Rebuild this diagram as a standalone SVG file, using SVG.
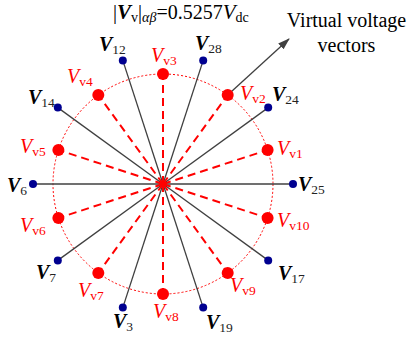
<svg xmlns="http://www.w3.org/2000/svg" width="409" height="339" viewBox="0 0 409 339" font-family="'Liberation Serif', serif">
<defs>
<style>
.bV{font-size:20px;font-style:italic;font-weight:bold;fill:#000;}
.rV{font-size:20px;font-style:italic;fill:#ff0000;}
.bs{font-size:13.5px;fill:#222;}
.rs{font-size:13.5px;fill:#ff0000;}
.blue{fill:#000090;}
.red{fill:#ff0000;}
.gl{stroke:#404040;stroke-width:1.3;fill:none;}
.rl{stroke:#ff0000;stroke-width:2;stroke-dasharray:8 5;fill:none;}
.t{font-size:20px;fill:#000;}
</style>
<marker id="ah" markerWidth="12" markerHeight="10" refX="11" refY="4" orient="auto" markerUnits="userSpaceOnUse">
<path d="M0,0 L12,4 L0,8 z" fill="#404040"/>
</marker>
</defs>
<rect width="409" height="339" fill="#fff"/>
<circle cx="163" cy="184" r="110" fill="none" stroke="#ff0000" stroke-width="1" stroke-dasharray="2 2"/>
<g id="connectors">
<line class="gl" x1="163" y1="184" x2="293" y2="184"/>
<line class="gl" x1="163" y1="184" x2="268.2" y2="107.6"/>
<line class="gl" x1="163" y1="184" x2="203.2" y2="60.4"/>
<line class="gl" x1="163" y1="184" x2="122.8" y2="60.4"/>
<line class="gl" x1="163" y1="184" x2="57.8" y2="107.6"/>
<line class="gl" x1="163" y1="184" x2="33" y2="184"/>
<line class="gl" x1="163" y1="184" x2="57.8" y2="260.4"/>
<line class="gl" x1="163" y1="184" x2="122.8" y2="307.6"/>
<line class="gl" x1="163" y1="184" x2="203.2" y2="307.6"/>
<line class="gl" x1="163" y1="184" x2="268.2" y2="260.4"/>
<line class="rl" x1="163" y1="184" x2="267.6" y2="150"/>
<line class="rl" x1="163" y1="184" x2="227.7" y2="95"/>
<line class="rl" x1="163" y1="184" x2="163" y2="74"/>
<line class="rl" x1="163" y1="184" x2="98.3" y2="95"/>
<line class="rl" x1="163" y1="184" x2="58.4" y2="150"/>
<line class="rl" x1="163" y1="184" x2="58.4" y2="218"/>
<line class="rl" x1="163" y1="184" x2="98.3" y2="273"/>
<line class="rl" x1="163" y1="184" x2="163" y2="294"/>
<line class="rl" x1="163" y1="184" x2="227.7" y2="273"/>
<line class="rl" x1="163" y1="184" x2="267.6" y2="218"/>
<line x1="227.7" y1="95" x2="289" y2="39" stroke="#404040" stroke-width="1.3" marker-end="url(#ah)"/>
</g>
<circle id="center" class="red" cx="163" cy="184" r="3.5"/>
<g id="V25"><circle class="blue" cx="293" cy="184" r="4"/><text x="298" y="191"><tspan class="bV">V</tspan><tspan class="bs" dy="3">25</tspan></text></g>
<g id="V24"><circle class="blue" cx="268.2" cy="107.6" r="4"/><text x="272" y="101"><tspan class="bV">V</tspan><tspan class="bs" dy="3">24</tspan></text></g>
<g id="V28"><circle class="blue" cx="203.2" cy="60.4" r="4"/><text x="195" y="50"><tspan class="bV">V</tspan><tspan class="bs" dy="3">28</tspan></text></g>
<g id="V12"><circle class="blue" cx="122.8" cy="60.4" r="4"/><text x="99" y="51"><tspan class="bV">V</tspan><tspan class="bs" dy="3">12</tspan></text></g>
<g id="V14"><circle class="blue" cx="57.8" cy="107.6" r="4"/><text x="28" y="104"><tspan class="bV">V</tspan><tspan class="bs" dy="3">14</tspan></text></g>
<g id="V6"><circle class="blue" cx="33" cy="184" r="4"/><text x="7" y="192"><tspan class="bV">V</tspan><tspan class="bs" dy="3">6</tspan></text></g>
<g id="V7"><circle class="blue" cx="57.8" cy="260.4" r="4"/><text x="36" y="279"><tspan class="bV">V</tspan><tspan class="bs" dy="3">7</tspan></text></g>
<g id="V3"><circle class="blue" cx="122.8" cy="307.6" r="4"/><text x="113" y="328"><tspan class="bV">V</tspan><tspan class="bs" dy="3">3</tspan></text></g>
<g id="V19"><circle class="blue" cx="203.2" cy="307.6" r="4"/><text x="206" y="329"><tspan class="bV">V</tspan><tspan class="bs" dy="3">19</tspan></text></g>
<g id="V17"><circle class="blue" cx="268.2" cy="260.4" r="4"/><text x="278" y="280"><tspan class="bV">V</tspan><tspan class="bs" dy="3">17</tspan></text></g>
<g id="Vv1"><circle class="red" cx="267.6" cy="150" r="6"/><text x="277" y="155"><tspan class="rV">V</tspan><tspan class="rs" dy="3">v1</tspan></text></g>
<g id="Vv2"><circle class="red" cx="227.7" cy="95" r="6"/><text x="240" y="100"><tspan class="rV">V</tspan><tspan class="rs" dy="3">v2</tspan></text></g>
<g id="Vv3"><circle class="red" cx="163" cy="74" r="6"/><text x="151" y="62"><tspan class="rV">V</tspan><tspan class="rs" dy="3">v3</tspan></text></g>
<g id="Vv4"><circle class="red" cx="98.3" cy="95" r="6"/><text x="67" y="83"><tspan class="rV">V</tspan><tspan class="rs" dy="3">v4</tspan></text></g>
<g id="Vv5"><circle class="red" cx="58.4" cy="150" r="6"/><text x="20" y="153"><tspan class="rV">V</tspan><tspan class="rs" dy="3">v5</tspan></text></g>
<g id="Vv6"><circle class="red" cx="58.4" cy="218" r="6"/><text x="20" y="232"><tspan class="rV">V</tspan><tspan class="rs" dy="3">v6</tspan></text></g>
<g id="Vv7"><circle class="red" cx="98.3" cy="273" r="6"/><text x="78" y="297"><tspan class="rV">V</tspan><tspan class="rs" dy="3">v7</tspan></text></g>
<g id="Vv8"><circle class="red" cx="163" cy="294" r="6"/><text x="153" y="318"><tspan class="rV">V</tspan><tspan class="rs" dy="3">v8</tspan></text></g>
<g id="Vv9"><circle class="red" cx="227.7" cy="273" r="6"/><text x="230" y="292"><tspan class="rV">V</tspan><tspan class="rs" dy="3">v9</tspan></text></g>
<g id="Vv10"><circle class="red" cx="267.6" cy="218" r="6"/><text x="277" y="227"><tspan class="rV">V</tspan><tspan class="rs" dy="3">v10</tspan></text></g>
<g id="title"><text class="t" x="113" y="19">|<tspan style="font-style:italic;font-weight:bold;font-size:21px">V</tspan><tspan style="font-size:14px" dy="3">v</tspan><tspan dy="-3">|</tspan><tspan style="font-size:14px;font-style:italic" dy="3">αβ</tspan><tspan dy="-3">=0.5257</tspan><tspan style="font-style:italic;font-size:21px">V</tspan><tspan style="font-size:14px" dy="3">dc</tspan></text></g>
<g id="note"><text x="346.5" y="27" text-anchor="middle" style="font-size:20px">Virtual voltage</text><text x="346.5" y="52" text-anchor="middle" style="font-size:20px">vectors</text></g>
</svg>
